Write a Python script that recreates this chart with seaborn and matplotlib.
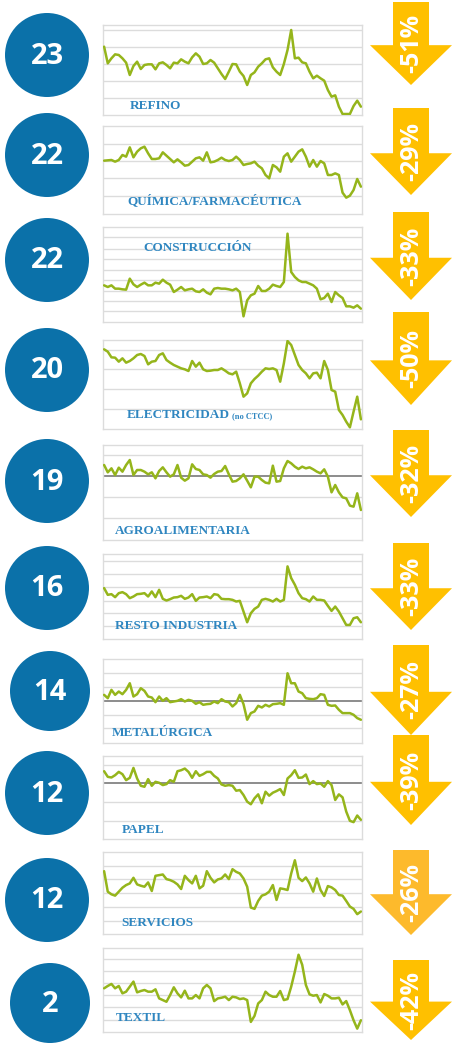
import matplotlib
matplotlib.use("Agg")
import matplotlib.pyplot as plt
from matplotlib.patches import Circle, Polygon
import numpy as np
import seaborn as sns

# DATA (arbitrary index units per panel)

sectors = ["REFINO", "QUÍMICA/FARMACÉUTICA", "CONSTRUCCIÓN", "ELECTRICIDAD",
           "AGROALIMENTARIA", "RESTO INDUSTRIA", "METALÚRGICA", "PAPEL",
           "SERVICIOS", "TEXTIL"]
counts = [23, 22, 22, 20, 19, 16, 14, 12, 12, 2]
changes = ["-51%", "-29%", "-33%", "-50%", "-32%", "-33%", "-27%", "-39%", "-26%", "-42%"]

refino = [210, 160, 175, 187, 185, 175, 162, 125, 152, 165, 143, 155, 157, 157, 142, 160,
          163, 155, 145, 162, 160, 172, 165, 160, 178, 190, 180, 158, 160, 170, 162, 145,
          128, 113, 135, 158, 157, 135, 122, 95, 125, 133, 150, 160, 172, 175, 148, 135,
          125, 158, 200, 260, 175, 177, 163, 160, 135, 115, 123, 115, 108, 80, 60, 64,
          30, 8, 8, 8, 32, 48, 30]
quimica = [163, 164, 165, 160, 165, 180, 175, 203, 173, 190, 200, 205, 185, 168, 168, 170,
           188, 178, 168, 158, 167, 158, 148, 150, 160, 170, 173, 163, 188, 158, 160, 165,
           172, 165, 162, 165, 175, 165, 150, 153, 155, 160, 148, 140, 120, 110, 150, 143,
           130, 175, 185, 160, 175, 190, 197, 175, 145, 165, 145, 162, 155, 120, 120, 125,
           120, 67, 52, 58, 75, 108, 85]
construccion = [115, 110, 115, 105, 105, 103, 102, 135, 118, 110, 117, 123, 115, 115, 123, 120,
                132, 123, 117, 95, 102, 110, 100, 103, 105, 97, 95, 103, 93, 88, 105, 107,
                105, 105, 103, 100, 105, 95, 22, 70, 85, 90, 113, 98, 98, 105, 117, 113,
                110, 125, 270, 155, 140, 130, 125, 125, 120, 115, 105, 73, 77, 90, 65, 95,
                85, 77, 52, 52, 48, 55, 45]
electricidad = [242, 235, 218, 217, 205, 215, 202, 207, 215, 225, 228, 222, 197, 205, 207, 225,
                230, 210, 202, 195, 190, 185, 182, 177, 207, 190, 202, 182, 177, 178, 180, 180,
                185, 178, 170, 167, 175, 140, 100, 110, 140, 153, 163, 175, 185, 183, 185, 180,
                145, 200, 267, 255, 225, 195, 180, 170, 155, 170, 172, 155, 207, 180, 120, 115,
                60, 45, 25, 8, 55, 100, 32]
agro = [230, 208, 220, 200, 222, 210, 230, 245, 200, 215, 215, 210, 202, 208, 190, 212,
        223, 208, 195, 202, 230, 192, 183, 190, 232, 218, 215, 202, 200, 192, 203, 210,
        212, 227, 202, 180, 182, 190, 202, 183, 163, 195, 195, 185, 177, 175, 228, 180,
        182, 220, 242, 235, 225, 218, 225, 220, 223, 217, 210, 205, 217, 195, 148, 170,
        148, 133, 130, 108, 105, 145, 95]
resto = [155, 135, 137, 128, 140, 143, 137, 125, 130, 137, 138, 140, 130, 145, 128, 150,
         123, 118, 122, 127, 128, 132, 123, 127, 137, 117, 127, 128, 130, 125, 137, 135,
         123, 122, 122, 120, 115, 117, 85, 53, 80, 93, 100, 120, 123, 120, 115, 123,
         115, 120, 220, 185, 165, 140, 125, 122, 115, 130, 120, 120, 118, 102, 87, 100,
         85, 65, 45, 45, 65, 68, 53]
metal = [150, 140, 165, 150, 160, 152, 165, 185, 145, 152, 170, 162, 145, 142, 128, 145,
         132, 140, 128, 130, 132, 137, 130, 135, 132, 123, 128, 120, 122, 123, 130, 125,
         137, 130, 128, 115, 125, 150, 122, 75, 95, 100, 117, 112, 120, 115, 122, 123,
         125, 120, 215, 185, 185, 160, 155, 140, 138, 137, 140, 152, 150, 120, 117, 118,
         105, 95, 95, 95, 90, 80, 75]
papel = [212, 195, 193, 200, 210, 203, 185, 192, 222, 190, 168, 165, 188, 168, 180, 177,
         170, 173, 185, 180, 212, 215, 220, 210, 192, 212, 198, 203, 210, 210, 198, 190,
         172, 168, 170, 168, 153, 155, 140, 120, 112, 130, 142, 115, 150, 138, 147, 152,
         158, 140, 190, 200, 215, 192, 193, 202, 173, 182, 173, 175, 165, 182, 170, 125,
         142, 133, 90, 62, 58, 78, 65]
servicios = [194, 132, 124, 120, 132, 144, 152, 157, 174, 154, 150, 147, 160, 134, 180, 182,
             184, 170, 167, 162, 154, 140, 180, 167, 157, 180, 142, 150, 194, 174, 160, 169,
             172, 184, 170, 200, 192, 187, 172, 147, 84, 80, 104, 120, 124, 132, 152, 107,
             142, 140, 137, 187, 227, 174, 164, 175, 157, 132, 172, 137, 119, 149, 145, 137,
             122, 120, 104, 87, 80, 64, 72]
textil = [135, 142, 148, 135, 142, 120, 125, 140, 155, 123, 127, 130, 125, 125, 132, 105,
          100, 95, 115, 138, 120, 108, 128, 105, 105, 115, 105, 135, 145, 135, 97, 105,
          107, 110, 100, 110, 108, 103, 105, 100, 35, 53, 90, 100, 125, 115, 110, 110,
          127, 100, 103, 140, 185, 235, 205, 145, 117, 113, 115, 93, 118, 113, 105, 105,
          107, 87, 97, 70, 40, 15, 40]

series = [refino, quimica, construccion, electricidad, agro, resto, metal, papel, servicios, textil]

# LAYOUT (pixels of the 453x1044 picture)

W, H = 453, 1044
circle_xy = [(47, 55), (47, 155), (47, 260), (47, 370), (47, 481),
             (47, 588), (50, 691), (47, 793), (47, 900), (50, 1003)]
circle_r = [42, 42, 42, 42, 42, 42, 40, 42, 42, 40]
box_y = [(25, 115), (126, 214), (227, 322), (340, 429), (445, 540),
         (554, 639), (659, 743), (756, 839), (852, 934), (948, 1032)]
arrow_y = [(2, 85), (108, 195), (212, 300), (312, 405), (430, 517),
           (543, 630), (645, 735), (735, 825), (850, 935), (960, 1040)]
label_xy = [(130, 106), (127, 201), (143, 248), (127, 415), (115, 531),
            (115, 626), (112, 733), (122, 830), (121, 923), (116, 1018)]
ylims = [(5, 275), (3, 267), (5, 290), (3, 270), (5, 290),
         (3, 257), (5, 258), (7, 258), (4, 252), (5, 255)]
grids = [[260, 208, 158, 107, 55], [213, 163, 110, 57],
         [260, 225, 193, 160, 130, 98, 67, 37], [240, 182, 122, 62],
         [260, 133, 72], [235, 197, 157, 118, 80, 42],
         [215, 173, 90, 50], [230, 118, 62],
         [210, 169, 127, 85, 44], [223, 187, 150, 115, 78, 42]]
refs = [None, None, None, None, 198, None, 133, 175, None, None]
arrow_colors = ["#FFC000"] * 8 + ["#FDBA2C", "#FFC000"]

blue = "#0b71a9"
green = "#95b51b"
label_blue = "#2f86c0"
grey = "#dcdcdc"

sns.set_theme(style="white")
plt.rcParams["font.family"] = ["Open Sans", "DejaVu Sans"]

fig = plt.figure(figsize=(W / 100, H / 100), dpi=100)
bg = fig.add_axes([0, 0, 1, 1])
bg.set_xlim(0, W)
bg.set_ylim(H, 0)
bg.axis("off")

box_left, box_right = 103, 362

for i, vals in enumerate(series):
    # circle with the count
    cx, cy = circle_xy[i]
    bg.add_patch(Circle((cx, cy), circle_r[i], color=blue, lw=0))
    bg.text(cx, cy + 1, str(counts[i]), color="white", fontsize=21, fontweight="bold",
            ha="center", va="center")

    # down arrow with the change
    top, tip = arrow_y[i]
    ax_c = 411
    head = top + (tip - top) * 0.52
    pts = [(ax_c - 18, top), (ax_c + 18, top), (ax_c + 18, head), (ax_c + 41, head),
           (ax_c, tip), (ax_c - 41, head), (ax_c - 18, head)]
    bg.add_patch(Polygon(pts, closed=True, color=arrow_colors[i], lw=0))
    bg.text(ax_c + 1, top + (tip - top) * 0.5, changes[i], color="white", fontsize=18,
            fontweight="bold", rotation=90, ha="center", va="center")

    # line chart
    b_top, b_bot = box_y[i]
    ax = fig.add_axes([box_left / W, 1 - b_bot / H, (box_right - box_left) / W, (b_bot - b_top) / H])
    ax.set_facecolor("none")
    for g in grids[i]:
        ax.axhline(g, color=grey, lw=1.0, zorder=1)
    if refs[i] is not None:
        ax.axhline(refs[i], color="#8c8c8c", lw=1.4, zorder=2)
    x = np.arange(len(vals))
    sns.lineplot(x=x, y=vals, ax=ax, color=green, linewidth=1.8, zorder=3)
    ax.set_xlim(-0.3, len(vals) - 0.7)
    ax.set_ylim(*ylims[i])
    ax.set_xticks([])
    ax.set_yticks([])
    ax.set_xlabel("")
    ax.set_ylabel("")
    for s in ax.spines.values():
        s.set_color(grey)
        s.set_linewidth(1.0)

    lx, ly = label_xy[i]
    fig.text(lx / W, 1 - ly / H, sectors[i], color=label_blue, fontsize=9.5,
             fontweight="bold", family=["Liberation Serif", "DejaVu Serif"],
             ha="left", va="center")
    if sectors[i] == "ELECTRICIDAD":
        fig.text(232 / W, 1 - (ly + 1) / H, "(no CTCC)", color=label_blue, fontsize=6,
                 fontweight="bold", family=["Liberation Serif", "DejaVu Serif"],
                 ha="left", va="center")

fig.savefig("out.png", dpi=100)
